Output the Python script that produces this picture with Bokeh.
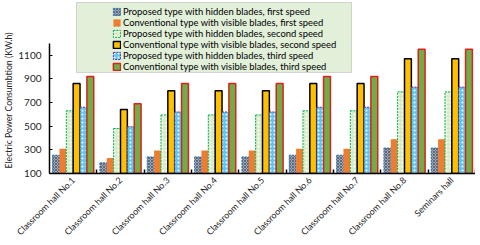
from math import pi
from bokeh.plotting import figure
from bokeh.models import (ColumnDataSource, Range1d, FixedTicker, BoxAnnotation,
                          Legend, LegendItem)
from bokeh.transform import dodge
from bokeh.embed import file_html
from bokeh.resources import INLINE

halls = ["Classroom hall No.1", "Classroom hall No.2", "Classroom hall No.3",
         "Classroom hall No.4", "Classroom hall No.5", "Classroom hall No.6",
         "Classroom hall No.7", "Classroom hall No.8", "Seminars hall"]
prop_first = [255, 190, 240, 240, 240, 255, 255, 315, 315]
conv_first = [310, 230, 295, 295, 295, 310, 310, 390, 390]
prop_second = [630, 480, 595, 595, 595, 630, 630, 790, 790]
conv_second = [860, 640, 800, 800, 800, 860, 860, 1070, 1070]
prop_third = [660, 495, 620, 620, 620, 660, 660, 830, 830]
conv_third = [920, 690, 860, 860, 860, 920, 920, 1150, 1150]
series_names = ["Proposed type with hidden blades, first speed",
                "Conventional type with visible blades, first speed",
                "Proposed type with hidden blades, second speed",
                "Conventional type with visible blades, second speed",
                "Proposed type with hidden blades, third speed",
                "Conventional type with visible blades, third speed"]
y_ticks = [100, 300, 500, 700, 900, 1100]
y_label = "Electric Power Consumbtion (KW.h)"

FONT = "Lato"

src = ColumnDataSource(dict(
    x=list(range(len(halls))),
    s0=prop_first, s1=conv_first, s2=prop_second,
    s3=conv_second, s4=prop_third, s5=conv_third,
))

p = figure(frame_width=426, frame_height=173, output_backend="svg", toolbar_location=None,
           x_range=Range1d(-0.5, 8.5), y_range=Range1d(100, 1562),
           min_border=0)
p.outline_line_color = None
p.xgrid.visible = False
p.ygrid.visible = False

styles = [
    dict(fill_color="#9ea7b3", hatch_pattern="x", hatch_color="#4a5a70", hatch_scale=3,
         hatch_weight=0.8, line_color="#2e75b6", line_dash="2 1", line_width=1),
    dict(fill_color="#ED7D31", line_color=None),
    dict(fill_color="#d9ecc9", hatch_pattern=".", hatch_color="#ffffff", hatch_scale=4,
         line_color="#00b050", line_dash="2 1", line_width=1),
    dict(fill_color="#FFC000", line_color="#000000", line_width=1.5),
    dict(fill_color="#5ac8f2", hatch_pattern=".", hatch_color="#ffffff", hatch_scale=4,
         line_color="#7030a0", line_dash="2 1", line_width=1),
    dict(fill_color="#70AD47", line_color="#e02020", line_width=1.5),
]

bw = 0.145
renderers = []
for i, st in enumerate(styles):
    r = p.vbar(x=dodge("x", (i - 2.5) * bw, range=p.x_range), top="s%d" % i,
               bottom=100, width=bw, source=src, **st)
    renderers.append(r)

# legend background box
box = BoxAnnotation(left=0.07, right=5.88, bottom=954, top=1545,
                    fill_color="#e2efd9", fill_alpha=1.0,
                    line_color="#808080", line_width=1, level="underlay")
p.add_layout(box)

legend = Legend(items=[LegendItem(label=n, renderers=[r]) for n, r in zip(series_names, renderers)],
                location=(63, 101), orientation="vertical",
                background_fill_alpha=0, border_line_alpha=0,
                glyph_width=9, glyph_height=9, label_height=9, spacing=0,
                padding=0, margin=0, label_standoff=2,
                label_text_font=FONT, label_text_font_size="9.4px",
                label_text_color="#000000")
p.add_layout(legend, "center")

# axes
yax = p.yaxis[0]
yax.ticker = FixedTicker(ticks=y_ticks)
yax.bounds = (100, 1200)
yax.axis_line_color = "#000000"
yax.axis_line_width = 1.5
yax.major_tick_in = 3
yax.major_tick_out = 0
yax.major_tick_line_color = "#000000"
yax.minor_tick_line_color = None
yax.major_label_text_font = FONT
yax.major_label_text_font_size = "10px"
yax.major_label_text_color = "#262626"
yax.major_label_standoff = 8
# a few trailing no-break spaces nudge the title toward the 100-1200 axis span
yax.axis_label = y_label + "\u00a0" * 12
yax.axis_label_text_font = FONT
yax.axis_label_text_font_size = "8.7px"
yax.axis_label_text_font_style = "normal"
yax.axis_label_text_color = "#262626"
yax.axis_label_standoff = 1

xax = p.xaxis[0]
xax.ticker = FixedTicker(ticks=list(range(len(halls))),
                         minor_ticks=[k + 0.5 for k in range(len(halls))])
xax.major_label_overrides = {k: h for k, h in enumerate(halls)}
xax.major_label_orientation = pi / 4
xax.major_tick_line_color = None
xax.major_tick_in = 0
xax.major_tick_out = 0
xax.minor_tick_in = 4
xax.minor_tick_out = 0
xax.minor_tick_line_color = "#000000"
xax.minor_tick_line_width = 1.5
xax.axis_line_color = "#000000"
xax.axis_line_width = 1.5
xax.major_label_text_font = FONT
xax.major_label_text_font_size = "8.9px"
xax.major_label_text_color = "#262626"
xax.major_label_standoff = 5

open("out.html", "w").write(file_html(p, INLINE))
